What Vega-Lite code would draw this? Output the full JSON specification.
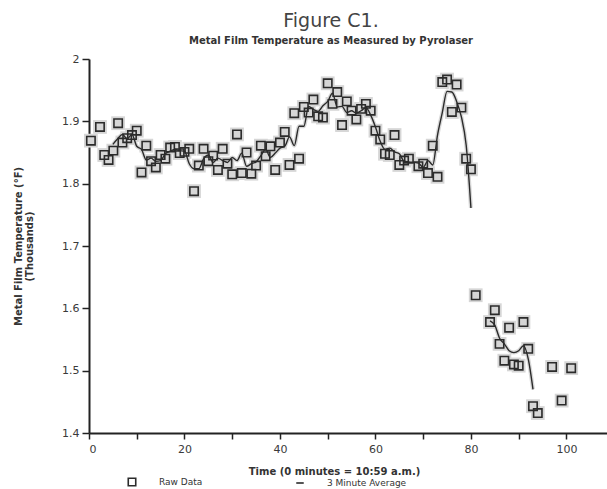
{
  "$schema": "https://vega.github.io/schema/vega-lite/v6.json",
  "autosize": {"type": "none"},
  "width": 518,
  "height": 374,
  "padding": {"left": 89, "top": 59, "right": 0, "bottom": 56},
  "background": "white",
  "title": {
    "text": "Figure C1.",
    "subtitle": "Metal Film Temperature as Measured by Pyrolaser",
    "dx": -17,
    "offset": 7,
    "font": "DejaVu Sans",
    "fontSize": 19,
    "fontWeight": "normal",
    "color": "#444",
    "subtitleFont": "DejaVu Sans",
    "subtitleFontSize": 10,
    "subtitleFontWeight": "bold",
    "subtitleColor": "#333",
    "subtitlePadding": 5
  },
  "datasets": {
    "raw": [
      {"t": 0.4, "v": 1.869, "series": "Raw Data"},
      {"t": 2.3, "v": 1.891, "series": "Raw Data"},
      {"t": 3.2, "v": 1.846, "series": "Raw Data"},
      {"t": 4.1, "v": 1.838, "series": "Raw Data"},
      {"t": 5.1, "v": 1.853, "series": "Raw Data"},
      {"t": 6.1, "v": 1.897, "series": "Raw Data"},
      {"t": 7, "v": 1.866, "series": "Raw Data"},
      {"t": 8, "v": 1.873, "series": "Raw Data"},
      {"t": 9, "v": 1.878, "series": "Raw Data"},
      {"t": 10, "v": 1.885, "series": "Raw Data"},
      {"t": 11, "v": 1.818, "series": "Raw Data"},
      {"t": 12, "v": 1.861, "series": "Raw Data"},
      {"t": 13, "v": 1.836, "series": "Raw Data"},
      {"t": 14, "v": 1.826, "series": "Raw Data"},
      {"t": 15, "v": 1.846, "series": "Raw Data"},
      {"t": 16, "v": 1.840, "series": "Raw Data"},
      {"t": 17, "v": 1.858, "series": "Raw Data"},
      {"t": 18, "v": 1.859, "series": "Raw Data"},
      {"t": 19, "v": 1.849, "series": "Raw Data"},
      {"t": 20, "v": 1.851, "series": "Raw Data"},
      {"t": 21, "v": 1.856, "series": "Raw Data"},
      {"t": 22, "v": 1.788, "series": "Raw Data"},
      {"t": 23, "v": 1.829, "series": "Raw Data"},
      {"t": 24, "v": 1.856, "series": "Raw Data"},
      {"t": 25, "v": 1.836, "series": "Raw Data"},
      {"t": 26, "v": 1.845, "series": "Raw Data"},
      {"t": 27, "v": 1.822, "series": "Raw Data"},
      {"t": 28, "v": 1.856, "series": "Raw Data"},
      {"t": 29, "v": 1.832, "series": "Raw Data"},
      {"t": 30, "v": 1.815, "series": "Raw Data"},
      {"t": 31, "v": 1.879, "series": "Raw Data"},
      {"t": 32, "v": 1.817, "series": "Raw Data"},
      {"t": 33, "v": 1.850, "series": "Raw Data"},
      {"t": 34, "v": 1.816, "series": "Raw Data"},
      {"t": 35, "v": 1.829, "series": "Raw Data"},
      {"t": 36, "v": 1.861, "series": "Raw Data"},
      {"t": 37, "v": 1.844, "series": "Raw Data"},
      {"t": 38, "v": 1.860, "series": "Raw Data"},
      {"t": 39, "v": 1.822, "series": "Raw Data"},
      {"t": 40, "v": 1.866, "series": "Raw Data"},
      {"t": 41, "v": 1.883, "series": "Raw Data"},
      {"t": 42, "v": 1.830, "series": "Raw Data"},
      {"t": 43, "v": 1.913, "series": "Raw Data"},
      {"t": 44, "v": 1.840, "series": "Raw Data"},
      {"t": 45, "v": 1.923, "series": "Raw Data"},
      {"t": 46, "v": 1.914, "series": "Raw Data"},
      {"t": 47, "v": 1.935, "series": "Raw Data"},
      {"t": 48, "v": 1.908, "series": "Raw Data"},
      {"t": 49, "v": 1.906, "series": "Raw Data"},
      {"t": 50, "v": 1.961, "series": "Raw Data"},
      {"t": 51, "v": 1.928, "series": "Raw Data"},
      {"t": 52, "v": 1.947, "series": "Raw Data"},
      {"t": 53, "v": 1.894, "series": "Raw Data"},
      {"t": 54, "v": 1.932, "series": "Raw Data"},
      {"t": 55, "v": 1.917, "series": "Raw Data"},
      {"t": 56, "v": 1.903, "series": "Raw Data"},
      {"t": 57, "v": 1.920, "series": "Raw Data"},
      {"t": 58, "v": 1.928, "series": "Raw Data"},
      {"t": 59, "v": 1.917, "series": "Raw Data"},
      {"t": 60, "v": 1.885, "series": "Raw Data"},
      {"t": 61, "v": 1.871, "series": "Raw Data"},
      {"t": 62, "v": 1.848, "series": "Raw Data"},
      {"t": 63, "v": 1.846, "series": "Raw Data"},
      {"t": 64, "v": 1.878, "series": "Raw Data"},
      {"t": 65, "v": 1.830, "series": "Raw Data"},
      {"t": 66, "v": 1.837, "series": "Raw Data"},
      {"t": 67, "v": 1.840, "series": "Raw Data"},
      {"t": 69, "v": 1.828, "series": "Raw Data"},
      {"t": 70, "v": 1.832, "series": "Raw Data"},
      {"t": 71, "v": 1.817, "series": "Raw Data"},
      {"t": 72, "v": 1.861, "series": "Raw Data"},
      {"t": 73, "v": 1.811, "series": "Raw Data"},
      {"t": 74, "v": 1.963, "series": "Raw Data"},
      {"t": 75, "v": 1.967, "series": "Raw Data"},
      {"t": 76, "v": 1.915, "series": "Raw Data"},
      {"t": 77, "v": 1.959, "series": "Raw Data"},
      {"t": 78, "v": 1.922, "series": "Raw Data"},
      {"t": 79, "v": 1.840, "series": "Raw Data"},
      {"t": 80, "v": 1.823, "series": "Raw Data"},
      {"t": 81, "v": 1.621, "series": "Raw Data"},
      {"t": 84, "v": 1.578, "series": "Raw Data"},
      {"t": 85, "v": 1.597, "series": "Raw Data"},
      {"t": 86, "v": 1.543, "series": "Raw Data"},
      {"t": 87, "v": 1.516, "series": "Raw Data"},
      {"t": 88, "v": 1.569, "series": "Raw Data"},
      {"t": 89, "v": 1.510, "series": "Raw Data"},
      {"t": 90, "v": 1.508, "series": "Raw Data"},
      {"t": 91, "v": 1.578, "series": "Raw Data"},
      {"t": 92, "v": 1.535, "series": "Raw Data"},
      {"t": 93, "v": 1.443, "series": "Raw Data"},
      {"t": 94, "v": 1.432, "series": "Raw Data"},
      {"t": 97, "v": 1.506, "series": "Raw Data"},
      {"t": 99, "v": 1.452, "series": "Raw Data"},
      {"t": 101, "v": 1.504, "series": "Raw Data"}
    ],
    "avg": [
      {"t": 5, "v": 1.863, "seg": "a"}, {"t": 6, "v": 1.872, "seg": "a"}, {"t": 7, "v": 1.879, "seg": "a"},
      {"t": 8, "v": 1.872, "seg": "a"}, {"t": 9, "v": 1.879, "seg": "a"}, {"t": 10, "v": 1.860, "seg": "a"},
      {"t": 11, "v": 1.855, "seg": "a"}, {"t": 12, "v": 1.838, "seg": "a"}, {"t": 13, "v": 1.841, "seg": "a"},
      {"t": 14, "v": 1.836, "seg": "a"}, {"t": 15, "v": 1.837, "seg": "a"}, {"t": 16, "v": 1.848, "seg": "a"},
      {"t": 17, "v": 1.852, "seg": "a"}, {"t": 18, "v": 1.855, "seg": "a"}, {"t": 19, "v": 1.853, "seg": "a"},
      {"t": 20, "v": 1.852, "seg": "a"}, {"t": 21, "v": 1.832, "seg": "a"}, {"t": 22, "v": 1.824, "seg": "a"},
      {"t": 23, "v": 1.824, "seg": "a"}, {"t": 24, "v": 1.840, "seg": "a"}, {"t": 25, "v": 1.846, "seg": "a"},
      {"t": 26, "v": 1.834, "seg": "a"}, {"t": 27, "v": 1.841, "seg": "a"}, {"t": 28, "v": 1.837, "seg": "a"},
      {"t": 29, "v": 1.834, "seg": "a"}, {"t": 30, "v": 1.842, "seg": "a"}, {"t": 31, "v": 1.837, "seg": "a"},
      {"t": 32, "v": 1.849, "seg": "a"}, {"t": 33, "v": 1.828, "seg": "a"}, {"t": 34, "v": 1.832, "seg": "a"},
      {"t": 35, "v": 1.835, "seg": "a"}, {"t": 36, "v": 1.845, "seg": "a"}, {"t": 37, "v": 1.855, "seg": "a"},
      {"t": 38, "v": 1.842, "seg": "a"}, {"t": 39, "v": 1.849, "seg": "a"}, {"t": 40, "v": 1.857, "seg": "a"},
      {"t": 41, "v": 1.860, "seg": "a"}, {"t": 42, "v": 1.875, "seg": "a"}, {"t": 43, "v": 1.861, "seg": "a"},
      {"t": 44, "v": 1.892, "seg": "a"}, {"t": 45, "v": 1.892, "seg": "a"}, {"t": 46, "v": 1.924, "seg": "a"},
      {"t": 47, "v": 1.919, "seg": "a"}, {"t": 48, "v": 1.916, "seg": "a"}, {"t": 49, "v": 1.925, "seg": "a"},
      {"t": 50, "v": 1.932, "seg": "a"}, {"t": 51, "v": 1.945, "seg": "a"}, {"t": 52, "v": 1.923, "seg": "a"},
      {"t": 53, "v": 1.924, "seg": "a"}, {"t": 54, "v": 1.914, "seg": "a"}, {"t": 55, "v": 1.917, "seg": "a"},
      {"t": 56, "v": 1.913, "seg": "a"}, {"t": 57, "v": 1.917, "seg": "a"}, {"t": 58, "v": 1.922, "seg": "a"},
      {"t": 59, "v": 1.910, "seg": "a"}, {"t": 60, "v": 1.891, "seg": "a"}, {"t": 61, "v": 1.868, "seg": "a"},
      {"t": 62, "v": 1.855, "seg": "a"}, {"t": 63, "v": 1.857, "seg": "a"}, {"t": 64, "v": 1.851, "seg": "a"},
      {"t": 65, "v": 1.848, "seg": "a"}, {"t": 66, "v": 1.836, "seg": "a"}, {"t": 67, "v": 1.835, "seg": "a"},
      {"t": 69, "v": 1.833, "seg": "a"}, {"t": 70, "v": 1.826, "seg": "a"}, {"t": 71, "v": 1.837, "seg": "a"},
      {"t": 72, "v": 1.830, "seg": "a"}, {"t": 73, "v": 1.878, "seg": "a"}, {"t": 74, "v": 1.914, "seg": "a"},
      {"t": 75, "v": 1.948, "seg": "a"}, {"t": 76, "v": 1.947, "seg": "a"}, {"t": 77, "v": 1.932, "seg": "a"},
      {"t": 78, "v": 1.907, "seg": "a"}, {"t": 79, "v": 1.862, "seg": "a"}, {"t": 80, "v": 1.761, "seg": "a"},
      {"t": 84, "v": 1.580, "seg": "b"}, {"t": 85, "v": 1.573, "seg": "b"}, {"t": 86, "v": 1.552, "seg": "b"},
      {"t": 87, "v": 1.543, "seg": "b"}, {"t": 88, "v": 1.532, "seg": "b"}, {"t": 89, "v": 1.529, "seg": "b"},
      {"t": 90, "v": 1.532, "seg": "b"}, {"t": 91, "v": 1.540, "seg": "b"}, {"t": 92, "v": 1.519, "seg": "b"},
      {"t": 93, "v": 1.470, "seg": "b"}
    ]
  },
  "layer": [
    {
      "data": {"name": "avg"},
      "mark": {"type": "line", "color": "#d8d8d8", "strokeWidth": 4, "interpolate": "monotone"},
      "encoding": {
        "x": {"field": "t", "type": "quantitative"},
        "y": {"field": "v", "type": "quantitative"},
        "detail": {"field": "seg"}
      }
    },
    {
      "data": {"name": "raw"},
      "mark": {"type": "point", "shape": "square", "filled": true, "color": "#d6d6d6", "size": 190, "opacity": 1},
      "encoding": {
        "x": {"field": "t", "type": "quantitative"},
        "y": {"field": "v", "type": "quantitative"}
      }
    },
    {
      "data": {"name": "avg"},
      "mark": {"type": "line", "color": "#2b2b2b", "strokeWidth": 1.4, "interpolate": "monotone"},
      "encoding": {
        "x": {"field": "t", "type": "quantitative"},
        "y": {"field": "v", "type": "quantitative"},
        "detail": {"field": "seg"}
      }
    },
    {
      "data": {"name": "raw"},
      "mark": {"type": "point", "filled": false, "color": "#2b2b2b", "size": 70, "strokeWidth": 1.6, "opacity": 1},
      "encoding": {
        "x": {
          "field": "t",
          "type": "quantitative",
          "scale": {"domain": [0, 108.5], "nice": false, "zero": false},
          "axis": {
            "values": [0, 10, 20, 30, 40, 50, 60, 70, 80, 90, 100],
            "labelExpr": "datum.value % 20 == 0 ? datum.label : ''",
            "title": "Time (0 minutes = 10:59 a.m.)",
            "titleX": 245,
            "titleY": 41,
            "titleBaseline": "alphabetic",
            "titleAnchor": "middle",
            "titleAlign": "center",
            "grid": false
          }
        },
        "y": {
          "field": "v",
          "type": "quantitative",
          "scale": {"domain": [1.4, 2.0], "nice": false, "zero": false},
          "axis": {
            "values": [1.4, 1.5, 1.6, 1.7, 1.8, 1.9, 2.0],
            "format": ".1~f",
            "title": ["Metal Film Temperature (°F)", "(Thousands)"],
            "titleAngle": -90,
            "titleX": -76,
            "titleY": 187,
            "titleBaseline": "top",
            "titleAlign": "center",
            "titleLineHeight": 11,
            "grid": false
          }
        },
        "shape": {
          "field": "series",
          "type": "nominal",
          "scale": {"domain": ["Raw Data", "3 Minute Average"], "range": ["square", "stroke"]},
          "legend": {
            "title": null,
            "orient": "none",
            "direction": "horizontal",
            "legendX": 38,
            "legendY": 418,
            "padding": 0,
            "symbolSize": 56,
            "symbolStrokeWidth": 1.6,
            "symbolStrokeColor": "#2b2b2b",
            "labelFont": "DejaVu Sans",
            "labelFontSize": 9,
            "labelColor": "#333",
            "labelOffset": 22,
            "columnPadding": 90,
            "encode": {
              "symbols": {
                "update": {
                  "size": {"signal": "datum.value == 'Raw Data' ? 56 : 700"}
                }
              }
            }
          }
        }
      }
    },
    {
      "mark": {"type": "rule", "color": "#222", "strokeWidth": 2},
      "encoding": {"y": {"datum": 2.0}}
    }
  ],
  "config": {
    "view": {"stroke": null},
    "axis": {
      "domainColor": "#222",
      "domainWidth": 2,
      "tickColor": "#222",
      "tickWidth": 1.5,
      "tickSize": 7,
      "labelFont": "DejaVu Sans",
      "labelFontSize": 11,
      "labelColor": "#3a3a3a",
      "labelPadding": 3,
      "titleFont": "DejaVu Sans",
      "titleFontSize": 10,
      "titleFontWeight": "bold",
      "titleColor": "#333"
    },
    "axisX": {"tickSize": 6, "labelPadding": 4}
  }
}
